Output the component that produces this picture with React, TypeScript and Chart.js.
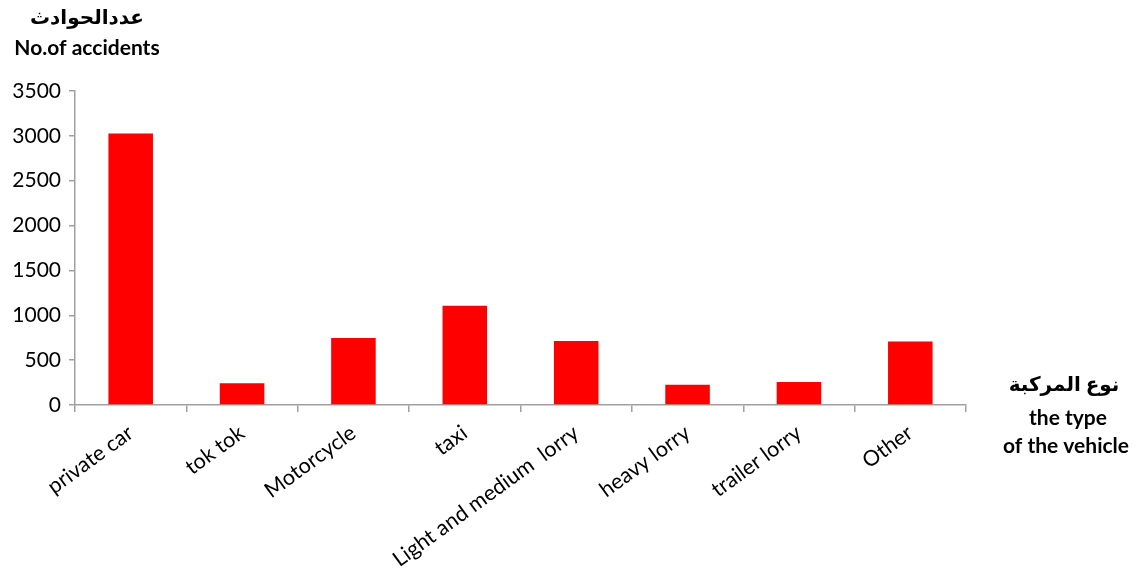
import React, { useEffect, useRef } from "react";
import { Chart, registerables } from "chart.js";

Chart.register(...registerables);

const categories = [
  "private car",
  "tok tok",
  "Motorcycle",
  "taxi",
  "Light and medium  lorry",
  "heavy lorry",
  "trailer lorry",
  "Other",
];
const accidents = [3025, 242, 748, 1105, 713, 226, 256, 709];
const yTitleLines = ["عددالحوادث", "No.of accidents"];
const xTitleLines = ["نوع المركبة", "the type", "of the vehicle"];

const FONT = "Lato, 'DejaVu Sans', sans-serif";

const titlePlugin = {
  id: "titles",
  afterDraw(chart: any) {
    const ctx = chart.ctx;
    ctx.save();
    ctx.fillStyle = "#000";
    ctx.textAlign = "center";
    ctx.textBaseline = "middle";
    ctx.font = `bold 20px ${FONT}`;
    ctx.fillText(yTitleLines[0], 87, 18);
    ctx.fillText(xTitleLines[0], 1064, 385);
    ctx.font = `bold 21px ${FONT}`;
    ctx.fillText(yTitleLines[1], 87, 48);
    ctx.fillText(xTitleLines[1], 1068, 418);
    ctx.fillText(xTitleLines[2], 1066, 446);
    ctx.restore();
  },
};

export default function App() {
  const ref = useRef<HTMLCanvasElement | null>(null);
  useEffect(() => {
    if (!ref.current) return;
    const chart = new Chart(ref.current, {
      type: "bar",
      data: {
        labels: categories,
        datasets: [
          {
            data: accidents,
            backgroundColor: "#ff0000",
            borderWidth: 0,
            categoryPercentage: 1,
            barPercentage: 0.4,
          },
        ],
      },
      options: {
        animation: false,
        responsive: true,
        maintainAspectRatio: false,
        layout: { padding: { top: 91, right: 170, left: 0, bottom: 0 } },
        plugins: { legend: { display: false }, tooltip: { enabled: false } },
        scales: {
          x: {
            grid: {
              drawOnChartArea: false,
              drawTicks: true,
              tickLength: 7,
              color: "#a0a0a0",
              lineWidth: 1.5,
              offset: true,
            },
            border: { color: "#a0a0a0", width: 1.5 },
            ticks: {
              color: "#000",
              font: { family: FONT, size: 21.5 },
              minRotation: 36,
              maxRotation: 36,
              padding: 8,
              autoSkip: false,
            },
            afterFit(scale: any) {
              scale.height = 166;
            },
          },
          y: {
            min: 0,
            max: 3500,
            grid: {
              drawOnChartArea: false,
              drawTicks: true,
              tickLength: 6,
              color: "#a0a0a0",
              lineWidth: 1.5,
            },
            border: { color: "#a0a0a0", width: 1.5 },
            ticks: {
              stepSize: 500,
              color: "#000",
              font: { family: FONT, size: 21 },
              padding: 8,
              callback: (v: any) => String(v),
            },
            afterFit(scale: any) {
              scale.width = 75;
            },
          },
        },
      },
      plugins: [titlePlugin],
    });
    return () => chart.destroy();
  }, []);
  return (
    <div style={{ position: "absolute", left: 0, top: 0, width: 1136, height: 571 }}>
      <canvas ref={ref} />
    </div>
  );
}
